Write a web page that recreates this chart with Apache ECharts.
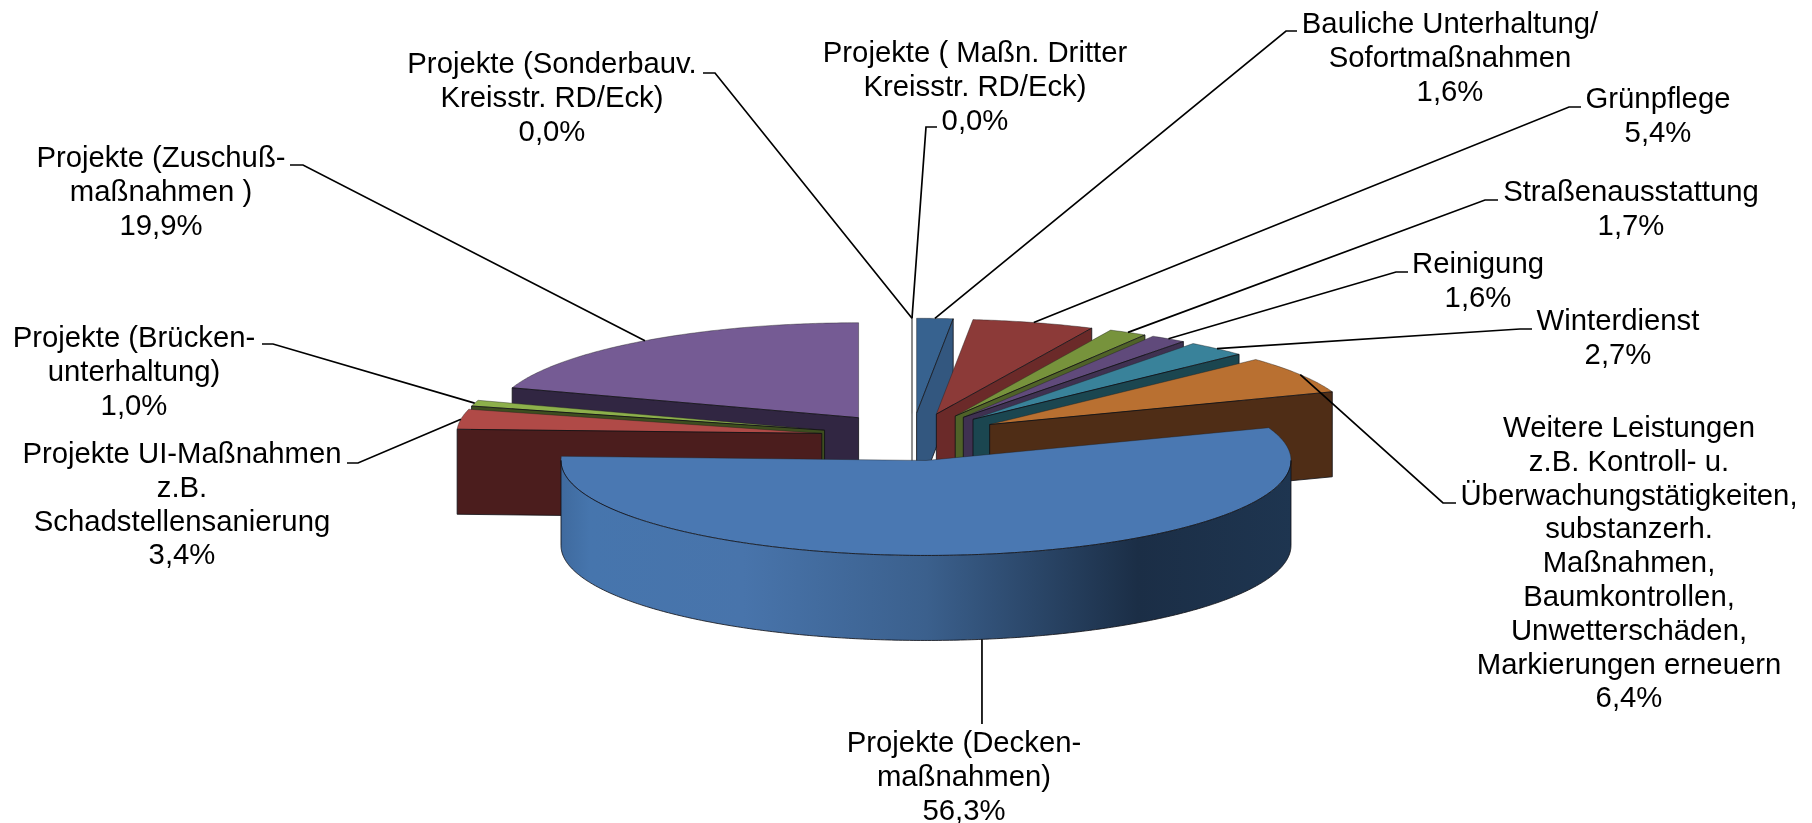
<!DOCTYPE html>
<html>
<head>
<meta charset="utf-8">
<title>Projekte</title>
<script src="https://cdn.jsdelivr.net/npm/echarts@6/dist/echarts.min.js"></script>
<style>
html, body { margin: 0; padding: 0; background: #fff; }
#chart { width: 1812px; height: 823px; }
</style>
</head>
<body>
<div id="chart"></div>
<script>
// clockwise from 12 o'clock
const categories = [
	'Projekte ( Maßn. Dritter\nKreisstr. RD/Eck)',
	'Bauliche Unterhaltung/\nSofortmaßnahmen',
	'Grünpflege',
	'Straßenausstattung',
	'Reinigung',
	'Winterdienst',
	'Weitere Leistungen\nz.B. Kontroll- u.\nÜberwachungstätigkeiten,\nsubstanzerh.\nMaßnahmen,\nBaumkontrollen,\nUnwetterschäden,\nMarkierungen erneuern',
	'Projekte (Decken-\nmaßnahmen)',
	'Projekte UI-Maßnahmen\nz.B.\nSchadstellensanierung',
	'Projekte (Brücken-\nunterhaltung)',
	'Projekte (Zuschuß-\nmaßnahmen )',
	'Projekte (Sonderbauv.\nKreisstr. RD/Eck)'
];
const values = [0.0, 1.6, 5.4, 1.7, 1.6, 2.7, 6.4, 56.3, 3.4, 1.0, 19.9, 0.0];

const topColors = ['#ffffff', '#37628f', '#8c3a38', '#77933c', '#604a7b', '#39829a', '#b97031', '#4a78b2', '#b04a47', '#8db04b', '#755b94', '#ffffff'];
const wallColors = ['#ffffff', '#33577f', '#6b2a29', '#4f6228', '#3f3151', '#1b4650', '#4f2d16', '#1d3550', '#4b1d1d', '#3e4e1f', '#312642', '#ffffff'];
// back to front
const paintOrder = [0, 11, 1, 2, 3, 4, 5, 6, 10, 9, 8, 7];

// [text centre x, first line centre y]
const labelPos = [[975, 54], [1450, 25], [1658, 100], [1631, 193], [1478, 265], [1618, 322], [1629, 429], [964, 744], [182, 455], [134, 339], [161, 159], [552, 65]];
// leader line: [start x, start y, elbow x]
const leaderPos = [[937, 127, 926], [1297, 31, 1286], [1581, 107, 1569], [1498, 200, 1485], [1408, 272, 1396], [1532, 329, 1520], [1456, 503, 1443], [982, 724, 982], [347, 463, 358], [262, 344, 273], [290, 165, 303], [703, 73, 715]];

const CX = 912, CY = 437, RX = 365, RY = 95, DEPTH = 85, EXPLODE = 0.25;
const FONT = '29.3px "Liberation Sans", Arial, sans-serif';
const LINE_H = 33.8;

const total = values.reduce((a, b) => a + b, 0);
const starts = [];
values.reduce((acc, v, i) => {
	starts[i] = acc;
	return acc + v;
}, 0);

function rad(v) {
	return v / total * Math.PI * 2;
}

// point on pie plane, t clockwise from top, r in radius units
function pt(t, r, ox, oy) {
	return [(ox || CX) + r * RX * Math.sin(t), (oy || CY) - r * RY * Math.cos(t)];
}

function arc(t0, t1, ox, oy, dy) {
	const pts = [];
	const n = Math.max(2, Math.ceil(Math.abs(t1 - t0) / 0.01));
	for (let k = 0; k <= n; k++) {
		const p = pt(t0 + (t1 - t0) * k / n, 1, ox, oy);
		pts.push([p[0], p[1] + (dy || 0)]);
	}
	return pts;
}

function renderSlice(params, api) {
	const i = api.value(0);
	const order = paintOrder.indexOf(i);
	const t0 = rad(starts[i]);
	const t1 = rad(starts[i] + values[i]);
	const mid = (t0 + t1) / 2;
	const apex = pt(mid, EXPLODE);
	const ax = apex[0], ay = apex[1];
	const zero = values[i] === 0;
	const edge = zero ? '#8a8a8a' : 'rgba(15,15,20,0.8)';
	const children = [];

	children.push({
		type: 'polygon',
		z2: order * 10,
		shape: { points: [apex].concat(arc(t0, t1, ax, ay)) },
		style: { fill: topColors[i], stroke: zero ? edge : 'rgba(30,30,30,0.4)', lineWidth: 1 }
	});

	if (t0 < Math.PI && t1 > Math.PI) {
		// front slice: outer wall, only the part facing the viewer
		const a = Math.max(t0, Math.PI / 2), b = Math.min(t1, Math.PI * 1.5);
		const pts = arc(a, b, ax, ay).concat(arc(b, a, ax, ay, DEPTH));
		children.push({
			type: 'polygon',
			z2: order * 10 + 1,
			shape: { points: pts },
			style: {
				fill: new echarts.graphic.LinearGradient(1, 0, 0, 0, [
					{ offset: 0, color: '#1e3550' },
					{ offset: 0.21, color: '#1b2e46' },
					{ offset: 0.5, color: '#3b608d' },
					{ offset: 0.75, color: '#4874ab' },
					{ offset: 0.96, color: '#4675ad' },
					{ offset: 1, color: '#3f6a9e' }
				]),
				stroke: edge,
				lineWidth: 1
			}
		});
	} else {
		// cut face that looks to the viewer
		const t = t1 <= Math.PI ? t1 : t0;
		const o = pt(t, 1, ax, ay);
		children.push({
			type: 'polygon',
			z2: order * 10 + 1,
			shape: { points: [apex, o, [o[0], o[1] + DEPTH], [ax, ay + DEPTH]] },
			style: { fill: wallColors[i], stroke: edge, lineWidth: 1 }
		});
	}

	// leader line, ends on the rim at the slice's middle
	const rim = pt(mid, 1 + EXPLODE);
	const front = Math.cos(mid) < 0 && Math.abs(Math.sin(mid)) < 0.9;
	const lp = leaderPos[i];
	children.push({
		type: 'polyline',
		z2: 1000,
		shape: { points: [[lp[0], lp[1]], [lp[2], lp[1]], [rim[0], rim[1] + (front ? DEPTH : 0)]] },
		style: { stroke: '#000', lineWidth: 1.7, fill: null }
	});

	const label = categories[i] + '\n' + values[i].toFixed(1).replace('.', ',') + '%';
	children.push({
		type: 'text',
		z2: 1001,
		style: {
			text: label,
			x: labelPos[i][0],
			y: labelPos[i][1] - LINE_H / 2,
			font: FONT,
			fill: '#000',
			align: 'center',
			verticalAlign: 'top',
			lineHeight: LINE_H
		}
	});
	return { type: 'group', children: children };
}

const chart = echarts.init(document.getElementById('chart'), null, { renderer: 'canvas' });
chart.setOption({
	backgroundColor: '#fff',
	animation: false,
	series: [{
		type: 'custom',
		coordinateSystem: 'none',
		renderItem: renderSlice,
		encode: { value: 1 },
		data: paintOrder.map(i => [i, values[i]])
	}]
});
</script>
</body>
</html>
